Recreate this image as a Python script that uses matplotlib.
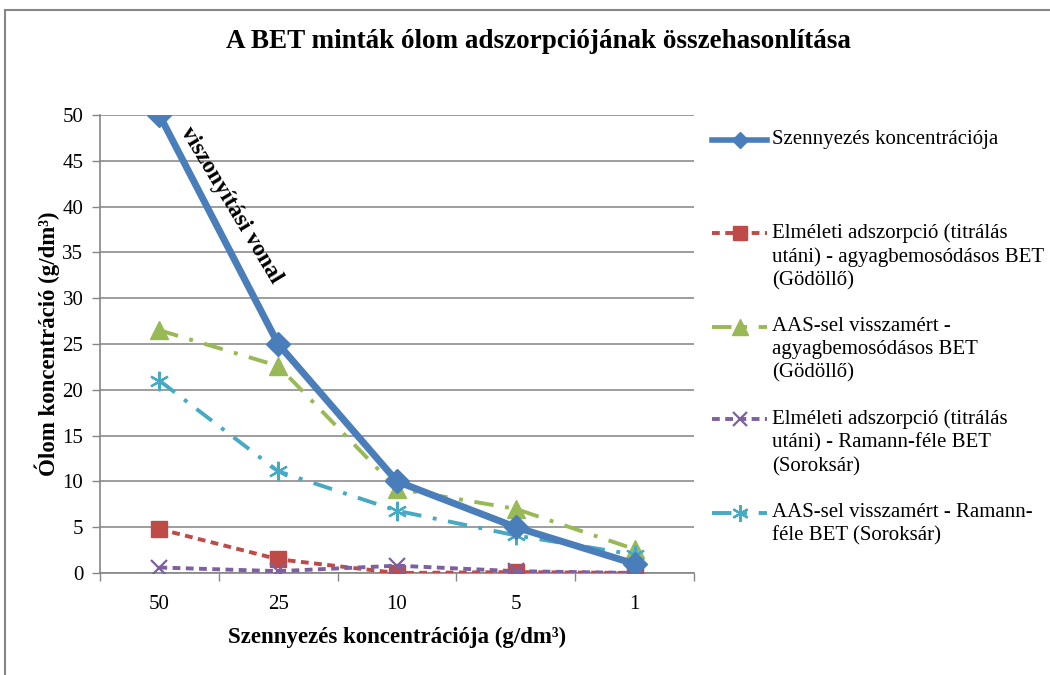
import matplotlib
matplotlib.use("Agg")
import matplotlib.pyplot as plt
from matplotlib.patches import Rectangle
from matplotlib.lines import Line2D

plt.rcParams['font.family'] = ['Liberation Serif', 'DejaVu Serif']

categories = ['50', '25', '10', '5', '1']
szennyezes = [50, 25, 10, 5, 1]
elm_godollo = [4.8, 1.5, 0.0, 0.1, 0.0]
aas_godollo = [26.5, 22.6, 9.2, 7.0, 2.6]
elm_soroksar = [0.6, 0.2, 0.8, 0.2, 0.0]
aas_soroksar = [21.0, 11.1, 6.8, 4.1, 2.0]

labels = [
    'Szennyezés koncentrációja',
    'Elméleti adszorpció (titrálás\nutáni) - agyagbemosódásos BET\n(Gödöllő)',
    'AAS-sel visszamért -\nagyagbemosódásos BET\n(Gödöllő)',
    'Elméleti adszorpció (titrálás\nutáni) - Ramann-féle BET\n(Soroksár)',
    'AAS-sel visszamért - Ramann-\nféle BET (Soroksár)',
]

blue = '#4A7EBB'
red = '#BE4B48'
green = '#98B954'
purple = '#7D60A0'
cyan = '#46AAC5'

W, H = 1050, 675
fig = plt.figure(figsize=(W / 100, H / 100), dpi=100)
# outer chart frame
fig.patches.append(Rectangle((5 / W, -0.05), 1.2, 1 - 10 / H + 0.05,
                             transform=fig.transFigure, fill=False,
                             edgecolor='#868686', linewidth=1.5))

ax = fig.add_axes([100 / W, 1 - 573 / H, 594 / W, 458 / H])
x = list(range(len(categories)))

styles = [
    dict(color=blue, lw=5.0, ls='-', marker='D', ms=12, mec=blue, mfc=blue, zorder=5),
    dict(color=red, lw=2.8, ls=(0, (2.0, 1.4)), marker='s', ms=12, mec=red, mfc=red, zorder=3),
    dict(color=green, lw=2.8, ls=(0, (5, 3, 1, 3)), marker='^', ms=13, mec=green, mfc=green, zorder=4),
    dict(color=purple, lw=2.8, ls=(0, (2.0, 1.4)), marker='x', ms=12, mew=1.6, zorder=3),
    dict(color=cyan, lw=2.8, ls=(0, (5, 3, 1, 3)), marker=(6, 2, 0), ms=14, mew=1.6, zorder=4),
]
series = [szennyezes, elm_godollo, aas_godollo, elm_soroksar, aas_soroksar]
for vals, st in zip(series, styles):
    ax.plot(x, vals, **st)

ax.text(0.6, 40.2, 'viszonyítási vonal', rotation=-59, rotation_mode='anchor',
        ha='center', va='center', fontsize=17, fontweight='bold', color='black')

ax.set_xlim(-0.5, len(categories) - 0.5)
ax.set_ylim(0, 50)
ax.set_yticks(range(0, 51, 5))
ax.set_xticks(x)
ax.set_xticklabels(categories)
ax.set_xticks([i - 0.5 for i in range(len(categories) + 1)], minor=True)
ax.tick_params(axis='x', which='major', length=0, pad=16, labelsize=15)
ax.tick_params(axis='x', which='minor', length=6, color='#868686', width=1)
ax.tick_params(axis='y', length=6, color='#868686', width=1, labelsize=15, pad=6)
ax.yaxis.grid(True, color='#8c8c8c', lw=1.2)
ax.set_axisbelow(True)
for s in ['top', 'right']:
    ax.spines[s].set_visible(False)
for s in ['left', 'bottom']:
    ax.spines[s].set_color('#868686')
    ax.spines[s].set_linewidth(1.2)

ax.set_xlabel('Szennyezés koncentrációja (g/dm³)', fontsize=16.5,
              fontweight='bold', labelpad=9)
ax.set_ylabel('Ólom koncentráció (g/dm³)', fontsize=16.5,
              fontweight='bold', labelpad=2)

fig.text(0.513, 1 - 42 / H, 'A BET minták ólom adszorpciójának összehasonlítása',
         ha='center', va='center', fontsize=19.5, fontweight='bold')

# legend on the right, handle aligned with the first text line of each entry
entry_y = [140, 233, 327, 419, 513]
for lab, st, yp in zip(labels, styles, entry_y):
    yf = 1 - yp / H
    handle = Line2D([712 / W, 739.5 / W, 767 / W], [yf] * 3, transform=fig.transFigure,
                    markevery=[1], **{k: v for k, v in st.items() if k != 'zorder'})
    if st['marker'] == 'D':
        handle.set_markersize(8)
        handle.set_linewidth(4)
    else:
        handle.set_markersize(st['ms'] * 0.85)
    fig.add_artist(handle)
    fig.text(772 / W, yf + 10 / H, lab, ha='left', va='top', fontsize=15,
             linespacing=1.3)

fig.savefig('out.png', dpi=100)
